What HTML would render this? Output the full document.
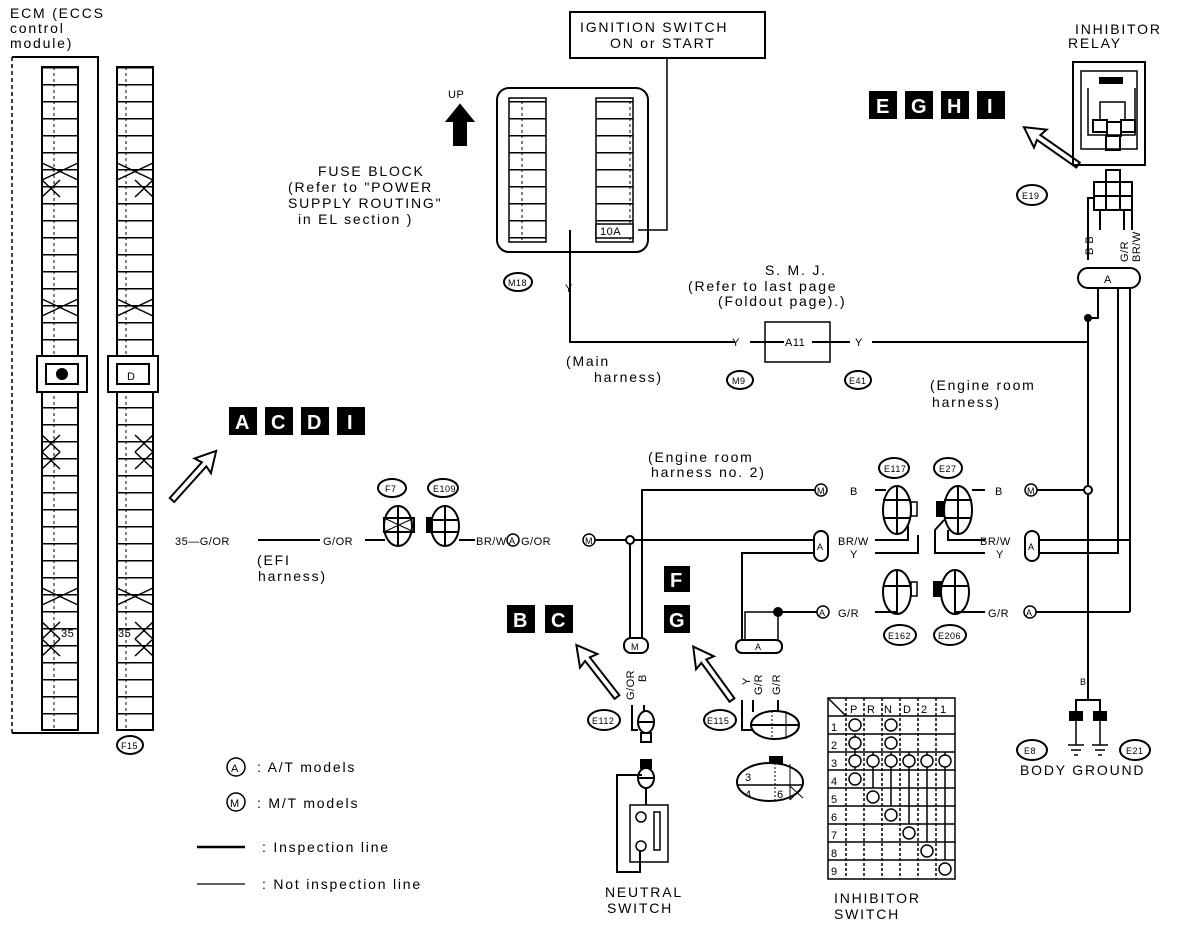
<!DOCTYPE html>
<html><head><meta charset="utf-8"><style>
html,body{margin:0;padding:0;background:#fff;}
svg{display:block;}
text{font-family:"Liberation Sans",sans-serif;font-size:14px;fill:#000;stroke:none;letter-spacing:1.8px;}
.s{font-size:11px;letter-spacing:0.5px;}
.b{font-size:20px;fill:#fff;font-weight:bold;letter-spacing:0;}
</style></head><body>
<svg width="1184" height="928" viewBox="0 0 1184 928" xmlns="http://www.w3.org/2000/svg" stroke="#000" fill="none" stroke-width="2">
<defs>
<pattern id="rows" x="0" y="67" width="36" height="17" patternUnits="userSpaceOnUse">
<line x1="0" y1="0.5" x2="36" y2="0.5" stroke-width="2"/>
<line x1="18" y1="0" x2="18" y2="17" stroke-width="1" stroke-dasharray="3,3"/>
</pattern>
<g id="arr"><polygon points="0,-3 48,-3 46,-11 66,0 46,11 48,3 0,3" stroke-width="2" fill="#fff"/></g>
</defs>

<!-- ECM -->
<text x="10" y="18">ECM (ECCS</text>
<text x="10" y="33">control</text>
<text x="10" y="48">module)</text>
<path d="M12 57 H98 V733 H12" />
<line x1="12" y1="57" x2="12" y2="733" stroke-dasharray="4,3" stroke-width="1.5"/>
<rect x="42" y="67" width="36" height="663" fill="url(#rows)" stroke-width="2"/>
<rect x="117" y="67" width="36" height="663" fill="url(#rows)" stroke-width="2"/>
<rect x="37" y="356" width="50" height="36" fill="#fff"/>
<rect x="46" y="364" width="32" height="20"/>
<circle cx="62" cy="374" r="5" fill="#000"/>
<rect x="108" y="356" width="50" height="36" fill="#fff"/>
<rect x="117" y="364" width="32" height="20"/>
<text x="127" y="380" class="s">D</text>
<g stroke-width="1.5">
<path d="M42 163 L78 180 M42 180 L78 163 M42 180 L60 197 M42 197 L60 180"/>
<path d="M117 163 L153 180 M117 180 L153 163 M135 180 L153 197 M135 197 L153 180"/>
<path d="M42 299 L78 316 M42 316 L78 299 M117 299 L153 316 M117 316 L153 299"/>
<path d="M42 435 L60 452 M42 452 L60 435 M42 452 L60 469 M42 469 L60 452"/>
<path d="M135 435 L153 452 M135 452 L153 435 M135 452 L153 469 M135 469 L153 452"/>
<path d="M42 588 L78 605 M42 605 L78 588 M117 588 L153 605 M117 605 L153 588"/>
<path d="M42 622 L60 639 M42 639 L60 622 M42 639 L60 656 M42 656 L60 639"/>
<path d="M135 622 L153 639 M135 639 L153 622 M135 639 L153 656 M135 656 L153 639"/>
</g>
<text x="61" y="637" class="s">35</text>
<text x="118" y="637" class="s">35</text>
<ellipse cx="130" cy="745" rx="13" ry="9"/><text x="121" y="749" class="s" style="font-size:9px">F15</text>

<!-- Labels black boxes -->
<g>
<rect x="230" y="408" width="26" height="26" fill="#000"/><rect x="266" y="408" width="26" height="26" fill="#000"/>
<rect x="302" y="408" width="26" height="26" fill="#000"/><rect x="338" y="408" width="26" height="26" fill="#000"/>
<text x="235" y="429" class="b">A</text><text x="271" y="429" class="b">C</text><text x="307" y="429" class="b">D</text><text x="347" y="429" class="b">I</text>
<rect x="870" y="92" width="26" height="26" fill="#000"/><rect x="906" y="92" width="26" height="26" fill="#000"/>
<rect x="942" y="92" width="26" height="26" fill="#000"/><rect x="978" y="92" width="26" height="26" fill="#000"/>
<text x="876" y="113" class="b">E</text><text x="911" y="113" class="b">G</text><text x="947" y="113" class="b">H</text><text x="987" y="113" class="b">I</text>
<rect x="508" y="606" width="26" height="26" fill="#000"/><rect x="546" y="606" width="26" height="26" fill="#000"/>
<text x="513" y="627" class="b">B</text><text x="551" y="627" class="b">C</text>
<rect x="665" y="567" width="24" height="24" fill="#000"/><rect x="665" y="606" width="24" height="26" fill="#000"/>
<text x="670" y="587" class="b">F</text><text x="669" y="627" class="b">G</text>
</g>
<use href="#arr" transform="translate(172,500) rotate(-48)"/>
<use href="#arr" transform="translate(1078,165) rotate(-145)"/>
<use href="#arr" transform="translate(617,697) rotate(-128)"/>
<use href="#arr" transform="translate(732,700) rotate(-126)"/>

<!-- Ignition / fuse -->
<rect x="570" y="12" width="195" height="46"/>
<text x="580" y="32">IGNITION SWITCH</text>
<text x="610" y="48">ON or START</text>
<path d="M667 58 V230 H638" stroke-width="1.5"/>
<rect x="497" y="88" width="151" height="164" rx="12"/>
<rect x="509" y="98" width="37" height="144" fill="url(#rows)" stroke-width="1.5"/>
<rect x="596" y="98" width="37" height="144" fill="url(#rows)" stroke-width="1.5"/>
<rect x="596" y="224" width="37" height="14" fill="#fff" stroke-width="1.5"/>
<text x="600" y="235" class="s">10A</text>
<polygon points="460,105 473,121 466,121 466,145 454,145 454,121 447,121" fill="#000"/>
<text x="448" y="98" class="s">UP</text>
<text x="318" y="176">FUSE BLOCK</text>
<text x="288" y="192">(Refer to "POWER</text>
<text x="288" y="208">SUPPLY ROUTING"</text>
<text x="298" y="224">in EL section )</text>
<ellipse cx="518" cy="282" rx="14" ry="9"/><text x="508" y="286" class="s" style="font-size:9px">M18</text>
<path d="M570 230 V342 H735" />
<text x="565" y="292" class="s">Y</text>
<text x="732" y="346" class="s">Y</text>
<line x1="750" y1="342" x2="1088" y2="342"/>
<rect x="765" y="322" width="65" height="40" fill="#fff" stroke-width="1.5"/>
<line x1="765" y1="342" x2="830" y2="342"/>
<rect x="784" y="336" width="28" height="12" fill="#fff" stroke="none"/>
<text x="785" y="346" class="s">A11</text>
<rect x="850" y="334" width="22" height="14" fill="#fff" stroke="none"/>
<text x="855" y="346" class="s">Y</text>
<text x="765" y="275">S. M. J.</text>
<text x="688" y="291">(Refer to last page</text>
<text x="718" y="306">(Foldout page).)</text>
<text x="566" y="366">(Main</text>
<text x="594" y="382">harness)</text>
<ellipse cx="740" cy="380" rx="13" ry="9"/><text x="732" y="384" class="s" style="font-size:9px">M9</text>
<ellipse cx="858" cy="380" rx="13" ry="9"/><text x="849" y="384" class="s" style="font-size:9px">E41</text>
<text x="930" y="390">(Engine room</text>
<text x="932" y="407">harness)</text>

<!-- Relay -->
<text x="1075" y="34">INHIBITOR</text>
<text x="1068" y="48">RELAY</text>
<rect x="1073" y="62" width="72" height="103"/>
<rect x="1081" y="71" width="56" height="78" stroke-width="1.5"/>
<rect x="1100" y="78" width="22" height="5" fill="#000"/>
<path d="M1088 88 V135 H1135 V88" stroke-width="1.5"/>
<rect x="1093" y="120" width="14" height="12"/><rect x="1107" y="122" width="14" height="14"/><rect x="1121" y="120" width="14" height="12"/>
<rect x="1106" y="136" width="14" height="14"/>
<path d="M1100 120 V102 H1125 V120" stroke-width="1.5"/>
<rect x="1106" y="170" width="14" height="12"/>
<rect x="1094" y="182" width="38" height="28"/><line x1="1094" y1="196" x2="1132" y2="196"/><line x1="1106" y1="182" x2="1106" y2="210"/><line x1="1120" y1="182" x2="1120" y2="210"/>
<ellipse cx="1032" cy="195" rx="15" ry="10"/><text x="1022" y="199" class="s" style="font-size:9px">E19</text>
<path d="M1088 260 V198 H1094 M1100 210 V230 M1124 210 V230 M1132 184 V230" stroke-width="2"/>
<text x="1093" y="255" class="s" transform="rotate(-90 1093 255)">B B</text>
<text x="1128" y="262" class="s" transform="rotate(-90 1128 262)">G/R</text>
<text x="1140" y="262" class="s" transform="rotate(-90 1140 262)">BR/W</text>
<rect x="1078" y="268" width="62" height="20" rx="10" fill="#fff"/>
<text x="1104" y="283" class="s">A</text>
<path d="M1098 288 V318 H1088" />
<line x1="1088" y1="318" x2="1088" y2="690"/>
<circle cx="1088" cy="318" r="3" fill="#000"/>
<line x1="1118" y1="288" x2="1118" y2="545"/>
<line x1="1130" y1="288" x2="1130" y2="612"/>
<circle cx="1088" cy="490" r="4" fill="#fff"/>

<!-- Left wire -->
<text x="175" y="545" class="s">35—G/OR</text>
<line x1="258" y1="540" x2="320" y2="540"/>
<text x="323" y="545" class="s">G/OR</text>
<line x1="365" y1="540" x2="385" y2="540"/>
<text x="257" y="565">(EFI</text>
<text x="258" y="581">harness)</text>
<ellipse cx="392" cy="488" rx="14" ry="9"/><text x="385" y="492" class="s" style="font-size:9px">F7</text>
<ellipse cx="443" cy="488" rx="15" ry="9"/><text x="433" y="492" class="s" style="font-size:9px">E109</text>
<ellipse cx="398" cy="526" rx="14" ry="20"/><line x1="398" y1="506" x2="398" y2="546"/><rect x="384" y="518" width="30" height="14"/><path d="M384 518 L414 532 M384 532 L414 518" stroke-width="1"/>
<ellipse cx="445" cy="526" rx="14" ry="20"/><line x1="445" y1="506" x2="445" y2="546"/><line x1="431" y1="520" x2="459" y2="520"/><line x1="431" y1="532" x2="459" y2="532"/><rect x="427" y="518" width="5" height="14" fill="#000"/>
<line x1="459" y1="540" x2="475" y2="540"/>
<text x="476" y="545" class="s">BR/W</text>
<circle cx="513" cy="540" r="6" stroke-width="1.5"/><text x="509" y="544" class="s" style="font-size:9px">A</text>
<text x="521" y="545" class="s">G/OR</text>
<circle cx="589" cy="540" r="6" stroke-width="1.5"/><text x="585" y="544" class="s" style="font-size:9px">M</text>
<line x1="595" y1="540" x2="627" y2="540"/>
<circle cx="630" cy="540" r="4" fill="#fff"/>
<line x1="634" y1="540" x2="815" y2="540"/>
<line x1="630" y1="544" x2="630" y2="638"/>
<path d="M642 638 V490 H815"/>

<!-- Engine room harness 2 -->
<text x="648" y="462">(Engine room</text>
<text x="651" y="477">harness no. 2)</text>
<circle cx="821" cy="490" r="6" stroke-width="1.5"/><text x="817" y="494" class="s" style="font-size:9px">M</text>
<text x="850" y="495" class="s">B</text>
<rect x="814" y="531" width="14" height="30" rx="7" fill="#fff"/><text x="817" y="550" class="s" style="font-size:9px">A</text>
<path d="M742 640 V553 H815"/>
<text x="838" y="545" class="s">BR/W</text>
<text x="850" y="558" class="s">Y</text>
<path d="M745 640 V612 H778 V640" stroke-width="1.5"/>
<circle cx="778" cy="612" r="4" fill="#000"/>
<line x1="778" y1="612" x2="817" y2="612"/>
<circle cx="823" cy="612" r="6" stroke-width="1.5"/><text x="819" y="616" class="s" style="font-size:9px">A</text>
<text x="838" y="617" class="s">G/R</text>

<ellipse cx="894" cy="468" rx="15" ry="10"/><text x="884" y="472" class="s" style="font-size:9px">E117</text>
<ellipse cx="948" cy="468" rx="14" ry="10"/><text x="939" y="472" class="s" style="font-size:9px">E27</text>
<g stroke-width="2">
<ellipse cx="897" cy="510" rx="14" ry="24"/><line x1="897" y1="486" x2="897" y2="534"/><line x1="883" y1="500" x2="911" y2="500"/><line x1="883" y1="518" x2="911" y2="518"/><rect x="911" y="502" width="6" height="14" stroke-width="1.5"/>
<ellipse cx="958" cy="510" rx="14" ry="24"/><line x1="958" y1="486" x2="958" y2="534"/><line x1="944" y1="500" x2="972" y2="500"/><line x1="944" y1="518" x2="972" y2="518"/><rect x="937" y="502" width="7" height="14" fill="#000"/>
<path d="M875 490 H886 M875 540 H908 V525 M875 553 H918 V535 M972 490 H985 M985 540 H948 V530 M985 553 H935 V530 L944 520"/>
<ellipse cx="897" cy="592" rx="14" ry="22"/><line x1="897" y1="570" x2="897" y2="614"/><line x1="883" y1="586" x2="911" y2="586"/><rect x="911" y="582" width="6" height="14" stroke-width="1.5"/>
<ellipse cx="955" cy="592" rx="14" ry="22"/><line x1="955" y1="570" x2="955" y2="614"/><line x1="941" y1="586" x2="969" y2="586"/><rect x="934" y="582" width="7" height="14" fill="#000"/>
<path d="M875 612 H897 V606 M985 612 H955 V606"/>
</g>
<ellipse cx="900" cy="635" rx="16" ry="10"/><text x="888" y="639" class="s" style="font-size:9px">E162</text>
<ellipse cx="950" cy="635" rx="16" ry="10"/><text x="938" y="639" class="s" style="font-size:9px">E206</text>
<text x="995" y="495" class="s">B</text>
<circle cx="1031" cy="490" r="6" stroke-width="1.5"/><text x="1027" y="494" class="s" style="font-size:9px">M</text>
<line x1="1037" y1="490" x2="1084" y2="490"/>
<text x="980" y="545" class="s">BR/W</text>
<text x="996" y="558" class="s">Y</text>
<rect x="1025" y="531" width="14" height="30" rx="7" fill="#fff"/><text x="1028" y="550" class="s" style="font-size:9px">A</text>
<path d="M1039 540 H1088 M1039 553 H1118 V545"/>
<line x1="1088" y1="540" x2="1130" y2="540" stroke-width="2"/>
<text x="988" y="617" class="s">G/R</text>
<circle cx="1030" cy="612" r="6" stroke-width="1.5"/><text x="1026" y="616" class="s" style="font-size:9px">A</text>
<line x1="1036" y1="612" x2="1130" y2="612"/>

<!-- Ground -->
<text x="1080" y="685" class="s" style="font-size:9px">B</text>
<path d="M1088 690 V700 H1076 V712 M1088 700 H1100 V712"/>
<rect x="1070" y="712" width="12" height="8" fill="#000"/><rect x="1094" y="712" width="12" height="8" fill="#000"/>
<path d="M1076 720 V745 M1068 745 H1084 M1071 750 H1081 M1074 755 H1078 M1100 720 V745 M1092 745 H1108 M1095 750 H1105 M1098 755 H1102" stroke-width="1.5"/>
<ellipse cx="1032" cy="750" rx="15" ry="10"/><text x="1024" y="754" class="s" style="font-size:9px">E8</text>
<ellipse cx="1135" cy="750" rx="15" ry="10"/><text x="1126" y="754" class="s" style="font-size:9px">E21</text>
<text x="1020" y="775">BODY GROUND</text>

<!-- Legend -->
<circle cx="236" cy="767" r="9" stroke-width="1.5"/><text x="231" y="772" class="s">A</text>
<text x="257" y="772">: A/T models</text>
<circle cx="236" cy="802" r="9" stroke-width="1.5"/><text x="230" y="807" class="s">M</text>
<text x="257" y="808">: M/T models</text>
<line x1="197" y1="847" x2="245" y2="847" stroke-width="2.5"/>
<text x="262" y="852">: Inspection line</text>
<line x1="197" y1="884" x2="245" y2="884" stroke-width="1.2"/>
<text x="262" y="889">: Not inspection line</text>

<!-- E112 / neutral -->
<rect x="624" y="638" width="24" height="15" rx="7" fill="#fff"/><text x="631" y="650" class="s" style="font-size:9px">M</text>
<text x="634" y="700" class="s" transform="rotate(-90 634 700)">G/OR</text>
<text x="646" y="682" class="s" transform="rotate(-90 646 682)">B</text>
<ellipse cx="604" cy="720" rx="16" ry="10"/><text x="592" y="724" class="s" style="font-size:9px">E112</text>
<path d="M632 705 V730 H638 M644 705 V712"/>
<ellipse cx="646" cy="722" rx="8" ry="11"/><line x1="638" y1="722" x2="654" y2="722"/><rect x="641" y="733" width="10" height="9"/>
<rect x="641" y="760" width="10" height="8" fill="#000"/>
<ellipse cx="646" cy="778" rx="8" ry="10"/><line x1="638" y1="778" x2="654" y2="778"/>
<path d="M646 788 V805 M642 775 H617 V872 H640 V850"/>
<rect x="630" y="805" width="38" height="57" stroke-width="1.5"/>
<circle cx="641" cy="817" r="5" stroke-width="1.5"/><circle cx="641" cy="846" r="5" stroke-width="1.5"/>
<rect x="654" y="812" width="6" height="38" stroke-width="1.5"/>
<text x="605" y="897">NEUTRAL</text><text x="607" y="913">SWITCH</text>

<!-- E115 -->
<rect x="736" y="640" width="46" height="13" rx="6" fill="#fff"/><text x="755" y="650" class="s" style="font-size:9px">A</text>
<text x="750" y="685" class="s" transform="rotate(-90 750 685)">Y</text>
<text x="762" y="695" class="s" transform="rotate(-90 762 695)">G/R</text>
<text x="780" y="695" class="s" transform="rotate(-90 780 695)">G/R</text>
<ellipse cx="720" cy="720" rx="16" ry="10"/><text x="707" y="724" class="s" style="font-size:9px">E115</text>
<path d="M742 700 V730 H752 M753 700 V712 M778 700 V712"/>
<ellipse cx="775" cy="725" rx="24" ry="14"/><line x1="751" y1="725" x2="799" y2="725"/><line x1="772" y1="711" x2="772" y2="739" stroke-dasharray="2,2" stroke-width="1"/><line x1="786" y1="711" x2="786" y2="739" stroke-width="1"/>
<rect x="770" y="757" width="12" height="6" fill="#000"/>
<ellipse cx="770" cy="782" rx="33" ry="19"/><line x1="737" y1="785" x2="803" y2="785" stroke-width="1.5"/><line x1="775" y1="763" x2="775" y2="800" stroke-dasharray="2,2" stroke-width="1"/><line x1="790" y1="764" x2="790" y2="800" stroke-width="1"/>
<path d="M790 800 L803 786 M790 786 L803 798" stroke-width="1"/>
<text x="745" y="781" class="s">3</text><text x="745" y="798" class="s">4</text><text x="777" y="798" class="s">6</text>

<!-- Inhibitor switch table -->
<g stroke-width="1.5">
<rect x="828" y="698" width="127" height="181"/>
<path d="M828 716 H955 M828 734 H955 M828 752 H955 M828 770 H955 M828 788 H955 M828 806 H955 M828 824 H955 M828 842 H955 M828 860 H955"/>
<path d="M846 698 V879 M864 698 V879 M882 698 V879 M900 698 V879 M918 698 V879 M936 698 V879" stroke-dasharray="3,2"/>
<path d="M828 698 L846 716"/>
<path d="M855 734 V770 M873 752 V788 M891 752 V806 M909 752 V824 M927 752 V842 M945 752 V860"/>
</g>
<g>
<text x="850" y="713" class="s">P</text><text x="867" y="713" class="s">R</text><text x="884" y="713" class="s">N</text><text x="903" y="713" class="s">D</text><text x="921" y="713" class="s">2</text><text x="940" y="713" class="s">1</text>
<text x="831" y="731" class="s">1</text><text x="831" y="749" class="s">2</text><text x="831" y="767" class="s">3</text><text x="831" y="785" class="s">4</text><text x="831" y="803" class="s">5</text><text x="831" y="821" class="s">6</text><text x="831" y="839" class="s">7</text><text x="831" y="857" class="s">8</text><text x="831" y="875" class="s">9</text>
</g>
<g stroke-width="1.5" fill="#fff">
<circle cx="855" cy="725" r="6"/><circle cx="891" cy="725" r="6"/><circle cx="855" cy="743" r="6"/><circle cx="891" cy="743" r="6"/>
<circle cx="855" cy="761" r="6"/><circle cx="873" cy="761" r="6"/><circle cx="891" cy="761" r="6"/><circle cx="909" cy="761" r="6"/><circle cx="927" cy="761" r="6"/><circle cx="945" cy="761" r="6"/>
<circle cx="855" cy="779" r="6"/><circle cx="873" cy="797" r="6"/><circle cx="891" cy="815" r="6"/><circle cx="909" cy="833" r="6"/><circle cx="927" cy="851" r="6"/><circle cx="945" cy="869" r="6"/>
</g>
<text x="834" y="903">INHIBITOR</text><text x="834" y="919">SWITCH</text>
</svg>
</body></html>
